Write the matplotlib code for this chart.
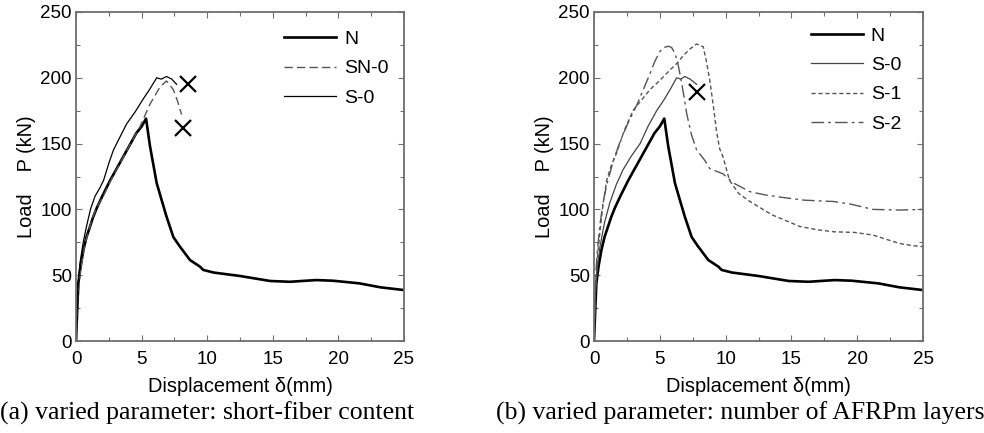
import matplotlib
matplotlib.use("Agg")
import matplotlib.pyplot as plt
from matplotlib.ticker import MultipleLocator

# ---- data ----
N_d = [0, 0.1, 0.18, 0.35, 0.56, 0.8, 1.07, 1.3, 1.58, 2.0, 2.6, 3.1, 3.6, 4.1, 4.6, 5.0, 5.34,
       5.64, 6.15, 6.53, 6.9, 7.42, 7.9, 8.69, 9.45, 9.7, 10.5, 12.5, 14.8, 16.3, 18.3, 19.6, 21.6, 23.2, 25.0]
N_P = [0, 25, 44, 57, 69, 79, 87, 94, 101, 110, 122, 131, 140, 149, 158, 163, 169,
       148, 120, 107, 94.5, 79, 72, 61.5, 56.5, 54, 52, 49.4, 45.6, 45, 46.3, 45.8, 43.8, 40.8, 38.7]

S0_d = [0, 0.1, 0.3, 0.55, 0.8, 1.1, 1.45, 1.8, 2.1, 2.5, 2.85, 3.3, 3.86, 4.5, 5.13, 5.6, 6.15, 6.5, 6.9, 7.3, 7.67]
S0_P = [0, 35, 59, 75, 87, 100, 110, 116, 122, 135, 145, 154, 165, 174, 184, 191, 200, 199, 201, 199, 195]

SN0_d = [0, 0.1, 0.3, 0.69, 1.2, 1.6, 2.08, 2.7, 3.35, 4.1, 4.88, 5.64, 6.4, 6.9, 7.42, 7.75, 8.05]
SN0_P = [0, 30, 50, 74, 92, 102, 110, 123, 135, 149, 163, 180, 193, 197.6, 191, 182, 172]

S0b_d = [0, 0.1, 0.25, 0.46, 0.8, 1.2, 1.7, 2.2, 2.8, 3.5, 4.1, 4.76, 5.3, 5.78, 6.28, 6.6, 6.9, 7.3, 7.8]
S0b_P = [0, 35, 55, 72, 90, 105, 119, 130, 140, 150, 163, 175, 183, 191, 200, 199, 201, 199, 195]

S1_d = [0, 0.1, 0.25, 0.46, 0.7, 0.96, 1.3, 1.72, 2.3, 2.99, 3.6, 4.25, 5.0, 5.78, 6.3, 6.8, 7.3, 7.8, 8.3,
        8.55, 8.8, 9.05, 9.3, 9.55, 9.8, 10.3, 11.0, 11.85, 13.5, 15.65, 17.0, 18.2, 19.8, 21.2, 22.3, 23.25, 24.2, 25.0]
S1_P = [0, 40, 62, 84, 105, 122, 133, 143, 160, 175.5, 183, 191, 198, 206, 211, 217, 222, 225.7, 223.6,
        212, 198, 180, 160, 146, 140, 122, 112, 106, 96, 87, 84.5, 83, 82.5, 80.5, 77, 74, 72.5, 71.7]

S2_d = [0, 0.1, 0.25, 0.46, 0.7, 1.0, 1.5, 2.0, 2.6, 3.24, 3.7, 4.25, 4.6, 5.0, 5.3, 5.65, 5.9, 6.15,
        6.35, 6.53, 6.8, 7.04, 7.4, 7.8, 8.05, 8.4, 8.8, 9.8, 10.6, 11.85, 13.0, 14.4, 16.0, 18.2, 19.5, 21.2, 23.25, 25.0]
S2_P = [0, 45, 68, 89, 106, 120, 138, 152, 166, 179, 190, 203, 212, 220, 223, 224, 223, 218.6,
        212, 203, 188, 173, 157, 145, 142, 137.5, 131, 127, 120, 113.5, 111, 109, 107, 106, 104, 100, 99.5, 100]

fail_a_d = [8.56, 8.17]
fail_a_P = [195, 162]
fail_b_d = [7.85]
fail_b_P = [189]

xticks = [0, 5, 10, 15, 20, 25]
yticks = [0, 50, 100, 150, 200, 250]

plt.rcParams['font.family'] = ['Liberation Sans', 'DejaVu Sans']

fig = plt.figure(figsize=(9.84, 4.33), dpi=100)
ax1 = fig.add_axes([76/984, (433-341)/433, 328/984, 329/433])
ax2 = fig.add_axes([594/984, (433-341)/433, 329/984, 329/433])

spine_col = '#6e6e6e'


def style(ax):
    ax.set_xlim(0, 25)
    ax.set_ylim(0, 250)
    ax.set_xticks(xticks)
    ax.set_yticks(yticks)
    ax.xaxis.set_minor_locator(MultipleLocator(2.5))
    ax.yaxis.set_minor_locator(MultipleLocator(25))
    ax.tick_params(which='both', direction='in', top=True, right=True,
                   colors=spine_col, labelcolor='black', labelsize=13.5, width=0.8)
    ax.tick_params(which='major', length=4)
    ax.tick_params(which='minor', length=3)
    ax.tick_params(axis='x', pad=7)
    ax.tick_params(axis='y', pad=3)
    for s in ax.spines.values():
        s.set_color(spine_col)
        s.set_linewidth(1.3)
    ax.set_xlabel('Displacement δ(mm)', fontsize=14.4, labelpad=7)
    ax.set_ylabel('Load    P (kN)', fontsize=14.4, labelpad=3)


# panel (a)
ax1.plot(N_d, N_P, color='black', lw=1.9, label='N')
ax1.plot(SN0_d, SN0_P, color='#555555', lw=1.0, ls=(0, (6, 3)), label='SN-0')
ax1.plot(S0_d, S0_P, color='black', lw=0.9, label='S-0')
ax1.plot(fail_a_d, fail_a_P, ls='none', marker='x', ms=11, mew=1.6, color='black')
style(ax1)
ax1.legend(loc='upper right', bbox_to_anchor=(0.995, 0.985), frameon=False, fontsize=14,
           handlelength=2.7, handletextpad=0.4, labelspacing=0.6, borderpad=0.2)

# panel (b)
ax2.plot(N_d, N_P, color='black', lw=1.9, label='N')
ax2.plot(S0b_d, S0b_P, color='#444444', lw=0.9, label='S-0')
ax2.plot(S1_d, S1_P, color='#555555', lw=1.0, ls=(0, (3, 2)), label='S-1')
ax2.plot(S2_d, S2_P, color='#555555', lw=1.0, ls=(0, (9, 3, 2, 3)), label='S-2')
ax2.plot(fail_b_d, fail_b_P, ls='none', marker='x', ms=11, mew=1.6, color='black')
style(ax2)
ax2.legend(loc='upper right', bbox_to_anchor=(0.975, 0.995), frameon=False, fontsize=14,
           handlelength=2.7, handletextpad=0.4, labelspacing=0.6, borderpad=0.2)

fig.text(0.0, 1 - 413/433, '(a) varied parameter: short-fiber content', ha='left', va='center',
         fontsize=18.5, family=['Liberation Serif', 'DejaVu Serif'])
fig.text(496/984, 1 - 413/433, '(b) varied parameter: number of AFRPm layers', ha='left', va='center',
         fontsize=18.5, family=['Liberation Serif', 'DejaVu Serif'])

fig.savefig('out.png', dpi=100)
